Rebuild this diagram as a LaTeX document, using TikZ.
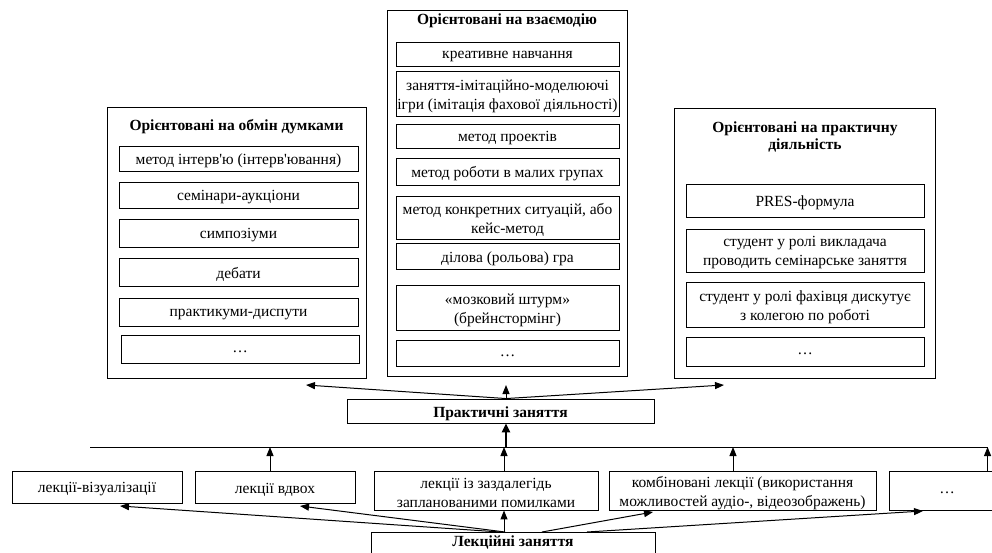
\documentclass[tikz,border=0pt]{standalone}
\usepackage{fontspec}
\setmainfont{Liberation Serif}[Ligatures=TeXOff]
\usetikzlibrary{arrows.meta}
\newcommand\rbox[6]{%
  \node[frame, minimum width={(#4-#2)*1pt}, minimum height={(#5-#3)*1pt}] (#1) at ({(#2+#4)/2},{(#3+#5)/2}) {};%
  \node[txt] (#1t) at ([yshift=-2.5pt]#1.center) {#6};}
\begin{document}
\begin{tikzpicture}[x=1pt,y=-1pt,
  frame/.style={draw, line width=0.9pt, inner sep=0pt},
  txt/.style={inner sep=0pt, align=center, font=\fontsize{15.5}{19}\selectfont},
  ttl/.style={inner sep=0pt, align=center, font=\fontsize{15.5}{17}\selectfont\bfseries},
  arr/.style={line width=1pt, -{Triangle[length=9pt,width=7pt]}},
  tarr/.style={line width=2.6pt, -{Triangle[length=9pt,width=8pt]}}]
\useasboundingbox (0,0) rectangle (992,553);
\clip (0,0) rectangle (992,553);
% left group
\rbox{L}{107}{107}{366}{378}{}
\node[ttl] (Lt) at (236.5,127) {Орієнтовані на обмін думками};
\rbox{L1}{119}{146}{358}{171}{метод інтерв'ю (інтерв'ювання)}
\rbox{L2}{119}{182}{358}{208}{семінари-аукціони}
\rbox{L3}{119}{219}{358}{247}{симпозіуми}
\rbox{L4}{119}{258}{358}{286}{дебати}
\rbox{L5}{119}{298}{358}{326}{практикуми-диспути}
\rbox{L6}{121}{335}{359}{363}{…}
% middle group
\rbox{M}{387}{10}{627}{376}{}
\node[ttl] (Mt) at (507,21) {Орієнтовані на взаємодію};
\rbox{M1}{396}{42}{619}{66}{креативне навчання}
\rbox{M2}{396}{71}{619}{116}{заняття-імітаційно-моделюючі\\ігри (імітація фахової діяльності)}
\rbox{M3}{396}{124}{619}{148}{метод проектів}
\rbox{M4}{396}{158}{619}{185}{метод роботи в малих групах}
\rbox{M5}{396}{196}{619}{239}{метод конкретних ситуацій, або\\кейс-метод}
\rbox{M6}{396}{243}{619}{269}{ділова (рольова) гра}
\rbox{M7}{396}{285}{619}{330}{«мозковий штурм»\\(брейнстормінг)}
\rbox{M8}{396}{340}{619}{366}{…}
% right group
\rbox{R}{674}{108}{935}{378}{}
\node[ttl] (Rt) at (805,137) {Орієнтовані на практичну\\діяльність};
\rbox{R1}{686}{184}{924}{217}{PRES-формула}
\rbox{R2}{686}{229}{924}{272}{студент у ролі викладача\\проводить семінарське заняття}
\rbox{R3}{686}{282}{924}{327}{студент у ролі фахівця дискутує\\з колегою по роботі}
\rbox{R4}{686}{337}{924}{366}{…}
% practical
\rbox{P}{347}{399}{654}{423}{\bfseries Практичні заняття}
\coordinate (tL) at (306,385);
\coordinate (tM) at (506,385);
\coordinate (tR) at (724,385);
\draw[arr] ([xshift=5.5pt]P.north) -- (tL);
\draw[arr] ([xshift=5.5pt]P.north) -- (tM);
\draw[arr] ([xshift=5.5pt]P.north) -- (tR);
% horizontal line
\coordinate (h1) at (90,447);
\coordinate (h2) at (988,447);
\coordinate (h0) at (506,447);
\draw[line width=1pt] (h1) -- (h2);
\draw[tarr] (h0) -- (h0 |- P.south);
% bottom boxes
\rbox{B1}{12}{471}{182}{503}{лекції-візуалізації}
\rbox{B2}{195}{471}{355}{503}{лекції вдвох}
\rbox{B3}{374}{471}{598}{510}{лекції із заздалегідь\\запланованими помилками}
\rbox{B4}{609}{471}{876}{510}{комбіновані лекції (використання\\можливостей аудіо-, відеозображень)}
\rbox{B5}{889}{471}{1005}{510}{…}
\draw[arr] ([xshift=-5pt]B2.north) -- ([xshift=-5pt]B2.north |- h1);
\draw[arr] ([xshift=18pt]B3.north) -- ([xshift=18pt]B3.north |- h1);
\draw[arr] ([xshift=-9.5pt]B4.north) -- ([xshift=-9.5pt]B4.north |- h1);
\draw[arr] ([xshift=99pt]B5.north west) -- ([xshift=99pt]B5.north west |- h1);
% lectures
\node[frame, minimum width=284pt, minimum height=30pt, anchor=north] (K) at (513,532) {};
\node[txt, font=\fontsize{15.5}{19}\selectfont\bfseries] (Kt) at (513,542.5) {Лекційні заняття};
\coordinate (t1) at (120,506);
\coordinate (t2) at (300,506);
\coordinate (t4) at (653,512);
\coordinate (t5) at (923,511);
\draw[arr] ([xshift=-13pt]K.north) -- (t1);
\draw[arr] ([xshift=-8pt]K.north) -- (t2);
\draw[arr] ([xshift=-9pt]K.north) -- ([xshift=-9pt]K.north |- B3.south);
\draw[arr] ([xshift=29pt]K.north) -- (t4);
\draw[arr] ([xshift=74pt]K.north) -- (t5);
\end{tikzpicture}
\end{document}
